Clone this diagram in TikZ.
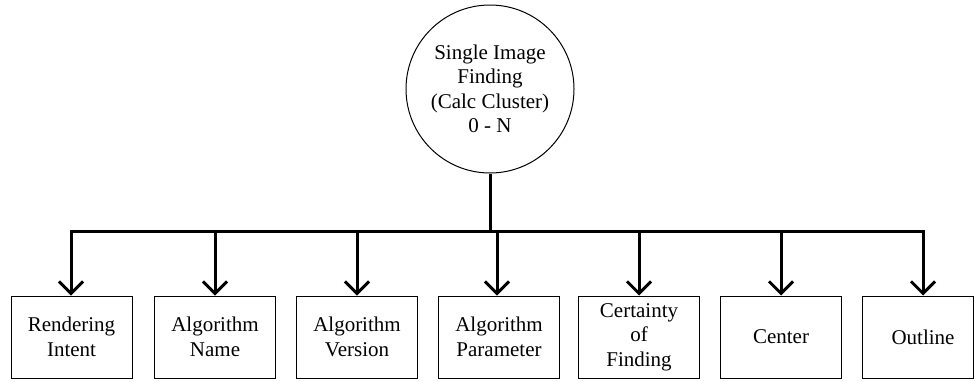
\documentclass[tikz,border=0pt]{standalone}
\usepackage{fontspec}
\setmainfont{Liberation Serif}
\usetikzlibrary{arrows.meta}
\begin{document}
\begin{tikzpicture}[x=1pt,y=-1pt,
  every node/.style={font=\fontsize{21}{24.5}\selectfont},
  leaf/.style={draw, line width=1pt, minimum width=121pt, minimum height=82pt,
    inner sep=0pt, align=center},
  root/.style={draw, circle, line width=1pt, minimum size=168pt, inner sep=0pt,
    align=center},
  conn/.style={line width=3pt, line join=miter},
  tip/.style={-{Straight Barb[length=12pt,width=24pt]}}]
\useasboundingbox (0,0) rectangle (974,381);

% root finding
\node[root] (top) at (490,89) {Single Image\\Finding\\(Calc Cluster)\\0 - N};

% child attributes
\node[leaf] (b1) at (71.5,337) {Rendering\\Intent};
\node[leaf] (b2) at (215,337) {Algorithm\\Name};
\node[leaf] (b3) at (357,337) {Algorithm\\Version};
\node[leaf] (b4) at (499,337) {Algorithm\\Parameter};
\node[leaf] (b5) at (639,337) {Certainty\\of\\Finding};
\node[leaf] (b6) at (781,337) {Center};
\node[leaf, minimum width=111pt] (b7) at (917.5,337) {\hspace*{11pt}Outline};

% junctions on the bus
\coordinate (j1) at (71,231);
\coordinate (j2) at (215,231);
\coordinate (j3) at (357,231);
\coordinate (j4) at (497,231);
\coordinate (j5) at (639,231);
\coordinate (j6) at (781,231);
\coordinate (j7) at (923,231);

% stem and bus
\draw[conn] (top.south) -- (top.south |- j1);
\draw[conn, {Straight Barb[length=12pt,width=24pt]}-{Straight Barb[length=12pt,width=24pt]}]
  (j1 |- b1.north) -- (j1) -- (j7) -- (j7 |- b7.north);

% inner branches
\draw[conn, tip] (j2) -- (j2 |- b2.north);
\draw[conn, tip] (j3) -- (j3 |- b3.north);
\draw[conn, tip] (j4) -- (j4 |- b4.north);
\draw[conn, tip] (j5) -- (j5 |- b5.north);
\draw[conn, tip] (j6) -- (j6 |- b6.north);
\end{tikzpicture}
\end{document}
